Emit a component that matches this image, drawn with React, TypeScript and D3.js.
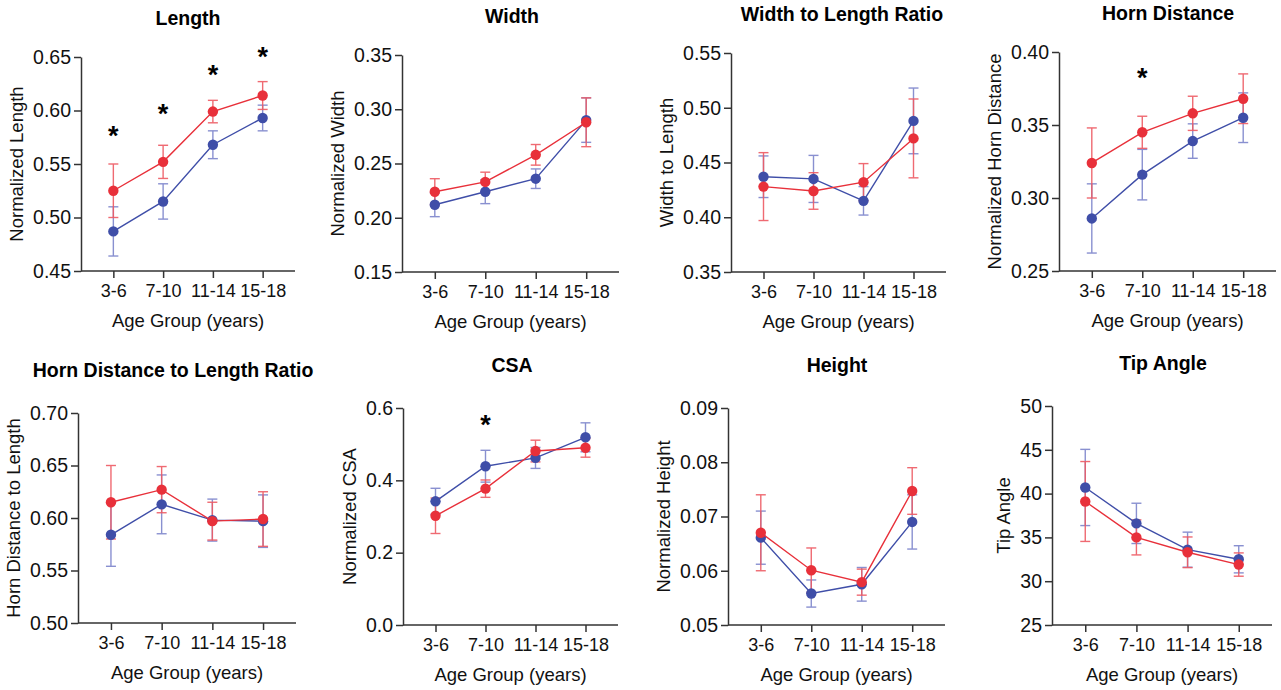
import { useEffect, useRef } from 'react';
import * as d3 from 'd3';

const ageGroups = ['3-6', '7-10', '11-14', '15-18'];

const titles = [
  'Length', 'Width', 'Width to Length Ratio', 'Horn Distance',
  'Horn Distance to Length Ratio', 'CSA', 'Height', 'Tip Angle',
];
const yTitles = [
  'Normalized Length', 'Normalized Width', 'Width to Length', 'Normalized Horn Distance',
  'Horn Distance to  Length', 'Normalized CSA', 'Normalized Height', 'Tip Angle',
];
const yDomains = [
  [0.45, 0.65], [0.15, 0.35], [0.35, 0.55], [0.25, 0.4],
  [0.5, 0.7], [0, 0.6], [0.05, 0.09], [25, 50],
];
const yTicks = [
  [0.45, 0.5, 0.55, 0.6, 0.65], [0.15, 0.2, 0.25, 0.3, 0.35], [0.35, 0.4, 0.45, 0.5, 0.55],
  [0.25, 0.3, 0.35, 0.4], [0.5, 0.55, 0.6, 0.65, 0.7], [0, 0.2, 0.4, 0.6],
  [0.05, 0.06, 0.07, 0.08, 0.09], [25, 30, 35, 40, 45, 50],
];
const tickFormats = ['.2f', '.2f', '.2f', '.2f', '.2f', '.1f', '.2f', 'd'];

// blue group
const blueMean = [
  [0.487, 0.515, 0.568, 0.593], [0.212, 0.224, 0.236, 0.29], [0.437, 0.435, 0.415, 0.488],
  [0.286, 0.316, 0.339, 0.355], [0.584, 0.613, 0.598, 0.597], [0.342, 0.439, 0.462, 0.519],
  [0.0661, 0.0558, 0.0575, 0.069], [40.7, 36.6, 33.6, 32.5],
];
const blueErr = [
  [0.023, 0.0165, 0.013, 0.012], [0.011, 0.011, 0.009, 0.0205], [0.019, 0.0215, 0.013, 0.03],
  [0.0237, 0.0173, 0.0118, 0.017], [0.03, 0.028, 0.02, 0.025], [0.036, 0.044, 0.029, 0.04],
  [0.0049, 0.0025, 0.0031, 0.005], [4.35, 2.3, 2.0, 1.55],
];
// red group
const redMean = [
  [0.525, 0.552, 0.599, 0.614], [0.224, 0.233, 0.258, 0.288], [0.428, 0.424, 0.432, 0.472],
  [0.324, 0.345, 0.358, 0.368], [0.615, 0.627, 0.597, 0.599], [0.302, 0.377, 0.481, 0.49],
  [0.067, 0.0601, 0.0579, 0.0747], [39.1, 35.0, 33.3, 31.9],
];
const redErr = [
  [0.025, 0.0155, 0.0105, 0.013], [0.012, 0.009, 0.0095, 0.0225], [0.031, 0.0167, 0.017, 0.036],
  [0.024, 0.011, 0.0117, 0.017], [0.035, 0.022, 0.018, 0.026], [0.049, 0.024, 0.03, 0.026],
  [0.007, 0.0041, 0.0024, 0.0043], [4.56, 2.0, 1.75, 1.33],
];

// significance stars: [panel, group index, y value]
const stars = [
  [0, 0, 0.581], [0, 1, 0.601], [0, 2, 0.638], [0, 3, 0.655],
  [3, 1, 0.3856], [5, 1, 0.568],
];

// panel frame: axis x, axis end, top, bottom, title center
const frames = [
  [81, 295, 57, 271, 188], [402, 619, 55, 272, 512], [731, 946, 53, 272, 842], [1059, 1276, 52, 271, 1168],
  [78, 296, 413, 623, 173], [403, 618, 408, 625, 512], [728, 945, 408, 625, 837], [1052, 1272, 406, 625, 1163],
];

const RED = '#e8303a';
const BLUE = '#3f4ea8';
const FONT = '"Liberation Sans", Arial, sans-serif';

export default function App() {
  const svgRef = useRef<SVGSVGElement>(null);

  useEffect(() => {
    const svg = d3.select(svgRef.current);
    svg.selectAll('*').remove();

    frames.forEach(([x0, x1, top, bottom, tx], p) => {
      const g = svg.append('g').style('font-family', FONT);
      const x = d3.scalePoint().domain(ageGroups).range([x0, x1]).padding(0.65);
      const y = d3.scaleLinear().domain(yDomains[p]).range([bottom, top]);

      // title
      g.append('text')
        .attr('x', tx)
        .attr('y', top - (p < 4 ? 32 : 36))
        .attr('text-anchor', 'middle')
        .style('font-size', '19.5px')
        .style('font-weight', 'bold')
        .text(titles[p]);

      // y axis
      const ya = g.append('g')
        .attr('transform', `translate(${x0},0)`)
        .call(d3.axisLeft(y).tickValues(yTicks[p]).tickFormat(d3.format(tickFormats[p])).tickSize(7).tickSizeOuter(0).tickPadding(3));
      ya.selectAll('text').style('font-size', '19.5px').attr('fill', '#111').style('font-family', FONT);
      ya.selectAll('line, path').attr('stroke', '#333').attr('stroke-width', 1.5);

      let labelW = 0;
      ya.selectAll<SVGTextElement, unknown>('text').each(function () {
        labelW = Math.max(labelW, this.getBBox().width);
      });

      // x axis
      const xa = g.append('g')
        .attr('transform', `translate(0,${bottom})`)
        .call(d3.axisBottom(x).tickSize(7).tickSizeOuter(0).tickPadding(6));
      xa.select('.domain').attr('d', `M${x0},0H${x1}`);
      xa.selectAll('text').style('font-size', '18px').attr('fill', '#111').style('font-family', FONT);
      xa.selectAll('line, path').attr('stroke', '#333').attr('stroke-width', 1.5);

      g.append('text')
        .attr('x', (x0 + x1) / 2)
        .attr('y', bottom + 56)
        .attr('text-anchor', 'middle')
        .style('font-size', '18.5px')
        .attr('fill', '#111')
        .text('Age Group (years)');

      g.append('text')
        .attr('transform', `translate(${x0 - labelW - 20},${(top + bottom) / 2}) rotate(-90)`)
        .attr('text-anchor', 'middle')
        .style('font-size', '18.5px')
        .attr('fill', '#111')
        .text(yTitles[p]);

      const series = [
        { mean: blueMean[p], err: blueErr[p], color: BLUE, bar: '#7d85cc' },
        { mean: redMean[p], err: redErr[p], color: RED, bar: '#ee5a63' },
      ];

      series.forEach(s => {
        const eb = g.append('g').attr('stroke', s.bar).attr('stroke-width', 1.4).attr('opacity', 0.9);
        s.mean.forEach((m, i) => {
          const cx = x(ageGroups[i])!;
          const y1 = y(m + s.err[i]);
          const y2 = y(m - s.err[i]);
          eb.append('line').attr('x1', cx).attr('x2', cx).attr('y1', y1).attr('y2', y2);
          eb.append('line').attr('x1', cx - 5).attr('x2', cx + 5).attr('y1', y1).attr('y2', y1);
          eb.append('line').attr('x1', cx - 5).attr('x2', cx + 5).attr('y1', y2).attr('y2', y2);
        });
      });

      series.forEach(s => {
        const line = d3.line<number>()
          .x((d, i) => x(ageGroups[i])!)
          .y(d => y(d));
        g.append('path')
          .datum(s.mean)
          .attr('d', line)
          .attr('fill', 'none')
          .attr('stroke', s.color)
          .attr('stroke-width', 1.4);
        g.selectAll(null)
          .data(s.mean)
          .enter()
          .append('circle')
          .attr('cx', (d, i) => x(ageGroups[i])!)
          .attr('cy', d => y(d))
          .attr('r', 5.2)
          .attr('fill', s.color);
      });

      stars.filter(st => st[0] === p).forEach(([, gi, v]) => {
        g.append('text')
          .attr('x', x(ageGroups[gi])!)
          .attr('y', y(v) + 14)
          .attr('text-anchor', 'middle')
          .style('font-size', '27px')
          .style('font-weight', 'bold')
          .text('*');
      });
    });
  }, []);

  return (
    <svg
      ref={svgRef}
      width={1281}
      height={690}
      style={{ position: 'absolute', left: 0, top: 0, background: '#fff' }}
    ></svg>
  );
}
